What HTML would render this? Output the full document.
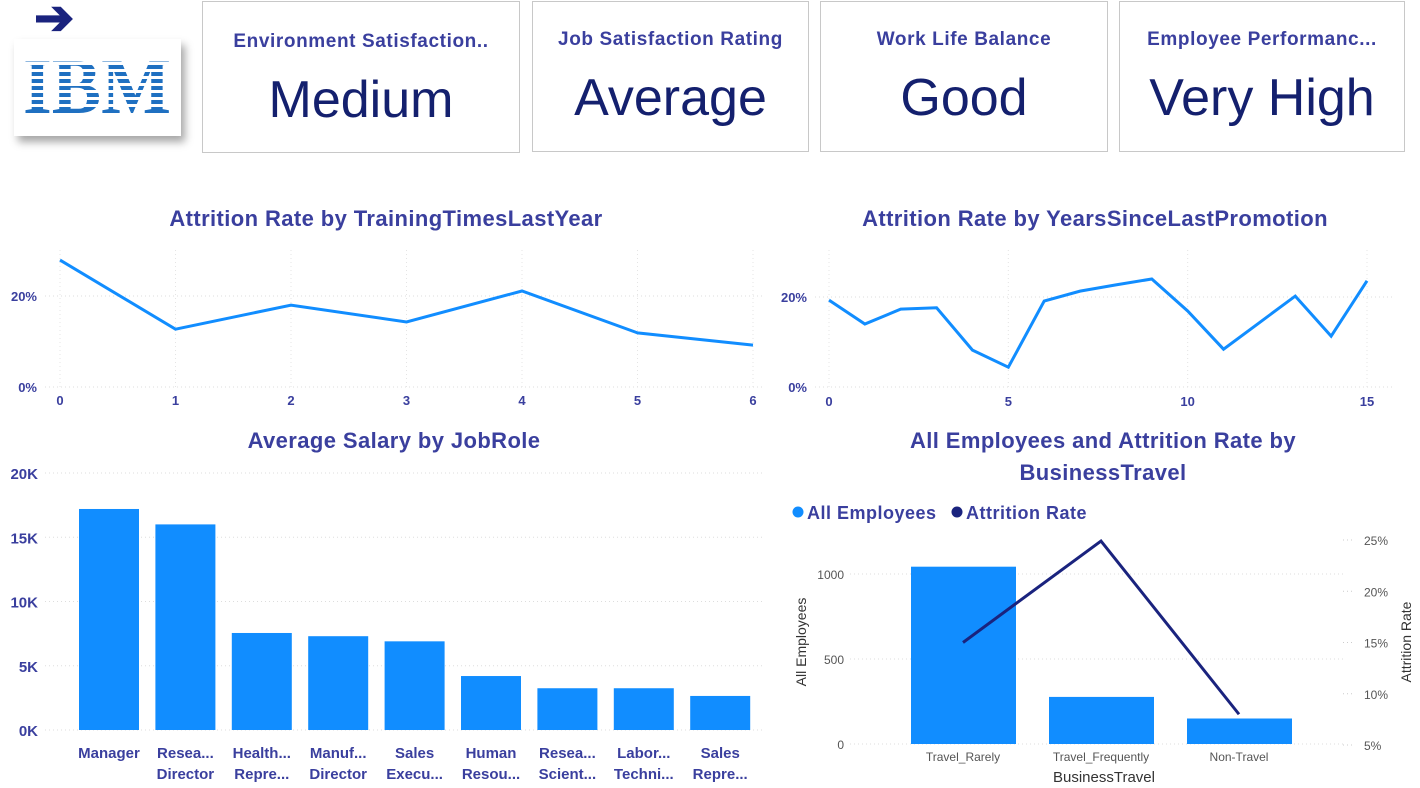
<!DOCTYPE html>
<html><head><meta charset="utf-8">
<style>
body{margin:0;width:1420px;height:788px;background:#fff;overflow:hidden;font-family:"Liberation Sans",Arial,sans-serif;position:relative}
.card{position:absolute;border:1px solid #c8c8c8;background:#fff;text-align:center}
.card .t{color:#3a3f9e;font-weight:bold;font-size:19px;margin-top:29px;white-space:nowrap;letter-spacing:0.6px}
.card .v{color:#14206e;font-size:52px;margin-top:17px}
svg{position:absolute;left:0;top:0}
</style></head><body>
<div style="position:absolute;left:14px;top:39px;width:167px;height:97px;background:#fff;box-shadow:4px 6px 8px rgba(0,0,0,.35)">
<svg width="167" height="97" viewBox="0 0 167 97">
<text x="9" y="74" font-family="Liberation Serif, serif" font-weight="bold" font-size="78" fill="#1f70c1" textLength="148" lengthAdjust="spacingAndGlyphs">IBM</text>
<g fill="#fff">
<rect x="0" y="23" width="167" height="3"/><rect x="0" y="30" width="167" height="3"/><rect x="0" y="37" width="167" height="3"/><rect x="0" y="44" width="167" height="3"/><rect x="0" y="51" width="167" height="3"/><rect x="0" y="58" width="167" height="3"/><rect x="0" y="65" width="167" height="3"/>
</g>
</svg></div>
<div style="position:absolute;left:34px;top:-10px;color:#1a237e;font-size:48px;font-weight:bold">➔</div>
<div class="card" style="left:202px;top:1px;width:316px;height:150px"><div class="t">Environment Satisfaction..</div><div class="v">Medium</div></div>
<div class="card" style="left:532px;top:1px;width:275px;height:149px"><div class="t" style="margin-top:27px">Job Satisfaction Rating</div><div class="v">Average</div></div>
<div class="card" style="left:820px;top:1px;width:286px;height:149px"><div class="t" style="margin-top:27px">Work Life Balance</div><div class="v">Good</div></div>
<div class="card" style="left:1119px;top:1px;width:284px;height:149px"><div class="t" style="margin-top:27px">Employee Performanc...</div><div class="v">Very High</div></div>
<svg id="ch" width="1420" height="788"></svg>
<script>
const trainX=[0,1,2,3,4,5,6];
const trainRate=[27.9,12.7,18.0,14.3,21.1,11.9,9.2];
const promoX=[0,1,2,3,4,5,6,7,8,9,10,11,12,13,14,15];
const promoRate=[19.3,14.0,17.3,17.6,8.2,4.4,19.1,21.3,22.7,24.0,16.9,8.4,14.3,20.2,11.3,23.6];
const roles=[["Manager",""],["Resea...","Director"],["Health...","Repre..."],["Manuf...","Director"],["Sales","Execu..."],["Human","Resou..."],["Resea...","Scient..."],["Labor...","Techni..."],["Sales","Repre..."]];
const salary=[17.2,16.0,7.55,7.3,6.9,4.2,3.25,3.25,2.65];
const salTicks=[0,5,10,15,20];
const travel=["Travel_Rarely","Travel_Frequently","Non-Travel"];
const travelEmp=[1043,277,150];
const travelRate=[15.0,24.9,8.0];
const empTicks=[0,500,1000];
const rateTicks=[5,10,15,20,25];

const S=document.getElementById('ch');const NS='http://www.w3.org/2000/svg';
function el(t,a,txt){const e=document.createElementNS(NS,t);for(const k in a)e.setAttribute(k,a[k]);if(txt!==undefined)e.textContent=txt;S.appendChild(e);return e;}
const TC='#3a3f9e';
function title(x,y,s,n){const e=el('text',{x:x,y:y,'text-anchor':'middle','font-size':22,'font-weight':'bold',fill:TC,'letter-spacing':'0.4'},s);

}
// chart 1
title(386,226,'Attrition Rate by TrainingTimesLastYear','training-chart-title');
{const x=v=>60+v*(753-60)/6,y=v=>387-v*4.55;
[0,20].forEach(t=>{el('line',{x1:45,x2:765,y1:y(t),y2:y(t),stroke:'#ddd','stroke-dasharray':'1 3'});const e=el('text',{x:37,y:y(t)+5,'text-anchor':'end','font-size':13,'font-weight':'bold',fill:TC},t+'%');});
trainX.forEach(v=>{el('line',{x1:x(v),x2:x(v),y1:250,y2:387,stroke:'#e4e4e4','stroke-dasharray':'1 3'});const e=el('text',{x:x(v),y:405,'text-anchor':'middle','font-size':13,'font-weight':'bold',fill:TC},v);});
const p=el('polyline',{points:trainX.map((v,i)=>x(v)+','+y(trainRate[i])).join(' '),fill:'none',stroke:'#118dff','stroke-width':3});
}
// chart 2
title(1095,226,'Attrition Rate by YearsSinceLastPromotion','promotion-chart-title');
{const x=v=>829+v*(1367-829)/15,y=v=>387-v*4.5;
[0,20].forEach(t=>{el('line',{x1:815,x2:1395,y1:y(t),y2:y(t),stroke:'#ddd','stroke-dasharray':'1 3'});const e=el('text',{x:807,y:y(t)+5,'text-anchor':'end','font-size':13,'font-weight':'bold',fill:TC},t+'%');});
[0,5,10,15].forEach(v=>{el('line',{x1:x(v),x2:x(v),y1:250,y2:387,stroke:'#e4e4e4','stroke-dasharray':'1 3'});const e=el('text',{x:x(v),y:406,'text-anchor':'middle','font-size':13,'font-weight':'bold',fill:TC},v);});
const p=el('polyline',{points:promoX.map((v,i)=>x(v)+','+y(promoRate[i])).join(' '),fill:'none',stroke:'#118dff','stroke-width':3});
}
// chart 3
title(394,448,'Average Salary by JobRole','salary-chart-title');
{const y=v=>730-v*12.85,x=i=>79+i*76.4;
salTicks.forEach(t=>{el('line',{x1:45,x2:765,y1:y(t),y2:y(t),stroke:'#ddd','stroke-dasharray':'1 3'});const e=el('text',{x:38,y:y(t)+6,'text-anchor':'end','font-size':15,'font-weight':'bold',fill:TC},t+'K');});
salary.forEach((v,i)=>{const r=el('rect',{x:x(i),y:y(v),width:60,height:v*12.85,fill:'#118dff'});
roles[i].forEach((l,j)=>{const e=el('text',{x:x(i)+30,y:758+j*21,'text-anchor':'middle','font-size':15,'font-weight':'bold',fill:TC},l);});});}
// chart 4
title(1103,448,'All Employees and Attrition Rate by','travel-chart-title');
title(1103,480,'BusinessTravel','travel-chart-title-2');
{const lg=[['#118dff','All Employees',793],['#1a237e','Attrition Rate',952]];
lg.forEach(a=>{el('circle',{cx:a[2]+5,cy:512,r:5.5,fill:a[0]});const e=el('text',{x:a[2]+14,y:519,'font-size':18,'font-weight':'bold',fill:TC,'letter-spacing':'0.5'},a[1]);});
const y=v=>744-v*0.17,yr=v=>745-(v-5)*10.25,x=i=>911+i*138;
empTicks.forEach(t=>{el('line',{x1:850,x2:1345,y1:y(t),y2:y(t),stroke:'#ddd','stroke-dasharray':'1 3'});const e=el('text',{x:844,y:y(t)+5,'text-anchor':'end','font-size':12,fill:'#555'},t);});
rateTicks.forEach(t=>{el('line',{x1:1343,x2:1355,y1:yr(t),y2:yr(t),stroke:'#ccc','stroke-dasharray':'1 3'});const e=el('text',{x:1364,y:yr(t)+5,'font-size':12,fill:'#555'},t+'%');});
travelEmp.forEach((v,i)=>{const r=el('rect',{x:x(i),y:y(v),width:105,height:v*0.17,fill:'#118dff'});
const e=el('text',{x:x(i)+52,y:761,'text-anchor':'middle','font-size':12,fill:'#555'},travel[i]);});
const p=el('polyline',{points:travelRate.map((v,i)=>(x(i)+52)+','+yr(v)).join(' '),fill:'none',stroke:'#1a237e','stroke-width':3});

let e=el('text',{x:1104,y:782,'text-anchor':'middle','font-size':15,fill:'#333'},'BusinessTravel');
e=el('text',{x:0,y:0,transform:'translate(806,642) rotate(-90)','text-anchor':'middle','font-size':14,fill:'#333'},'All Employees');
e=el('text',{x:0,y:0,transform:'translate(1411,642) rotate(-90)','text-anchor':'middle','font-size':14,fill:'#333'},'Attrition Rate');}
</script>
</body></html>
